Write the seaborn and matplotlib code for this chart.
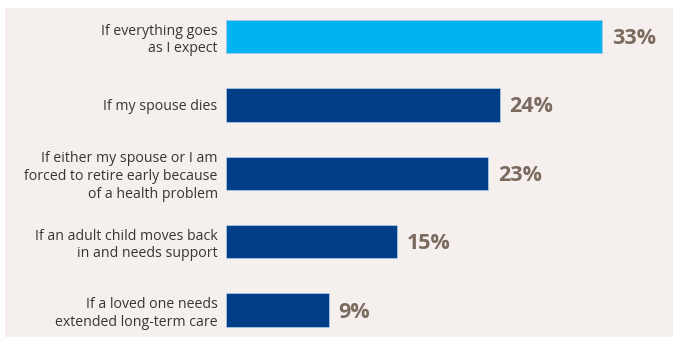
import matplotlib
matplotlib.use("Agg")
import matplotlib.pyplot as plt
import seaborn as sns
import pandas as pd
from matplotlib.patches import Rectangle

categories = [
    "If everything goes\nas I expect",
    "If my spouse dies",
    "If either my spouse or I am\nforced to retire early because\nof a health problem",
    "If an adult child moves back\nin and needs support",
    "If a loved one needs\nextended long-term care",
]
values = [33, 24, 23, 15, 9]
value_labels = ["33%", "24%", "23%", "15%", "9%"]
bar_colors = ["#00b5ef", "#003f87", "#003f87", "#003f87", "#003f87"]

sns.set_theme(style="white")
plt.rcParams['font.family'] = ['Open Sans', 'DejaVu Sans']

W, H = 673, 341
fig = plt.figure(figsize=(W / 100, H / 100), dpi=100)
fig.patch.set_facecolor("white")
fig.patches.append(Rectangle((5 / W, 1 - 337 / H), (W - 5) / W, 329 / H,
                             transform=fig.transFigure, facecolor="#f5f0ee",
                             edgecolor="none", zorder=-10))

ax_left = 226 / W
ax_bottom = 1 - 337 / H
ax = fig.add_axes([ax_left, ax_bottom, 1 - ax_left, 329 / H])
ax.patch.set_alpha(0)
ax.set_zorder(5)

df = pd.DataFrame({"cat": categories, "val": values})
sns.barplot(data=df, y="cat", x="val", hue="cat", palette=bar_colors,
            saturation=1, orient="h", width=0.49, legend=False, ax=ax,
            edgecolor="#a8c8e4", linewidth=0.6)

ax.set_xlim(0, 447 / 11.4)
ax.set_ylim(4.395, -0.417)
ax.set_xlabel("")
ax.set_ylabel("")
ax.set_xticks([])
for s in ax.spines.values():
    s.set_visible(False)
ax.tick_params(axis="y", length=0, pad=6)
for t in ax.get_yticklabels():
    t.set_fontsize(10.2)
    t.set_color("#363636")
    t.set_linespacing(1.25)

for i, (v, lab) in enumerate(zip(values, value_labels)):
    ax.annotate(lab, xy=(v, i), xytext=(7, -1.5), textcoords="offset points",
                ha="left", va="center", fontsize=15.5, fontweight="bold",
                color="#7b6b5f")

fig.savefig("out.png", dpi=100)
